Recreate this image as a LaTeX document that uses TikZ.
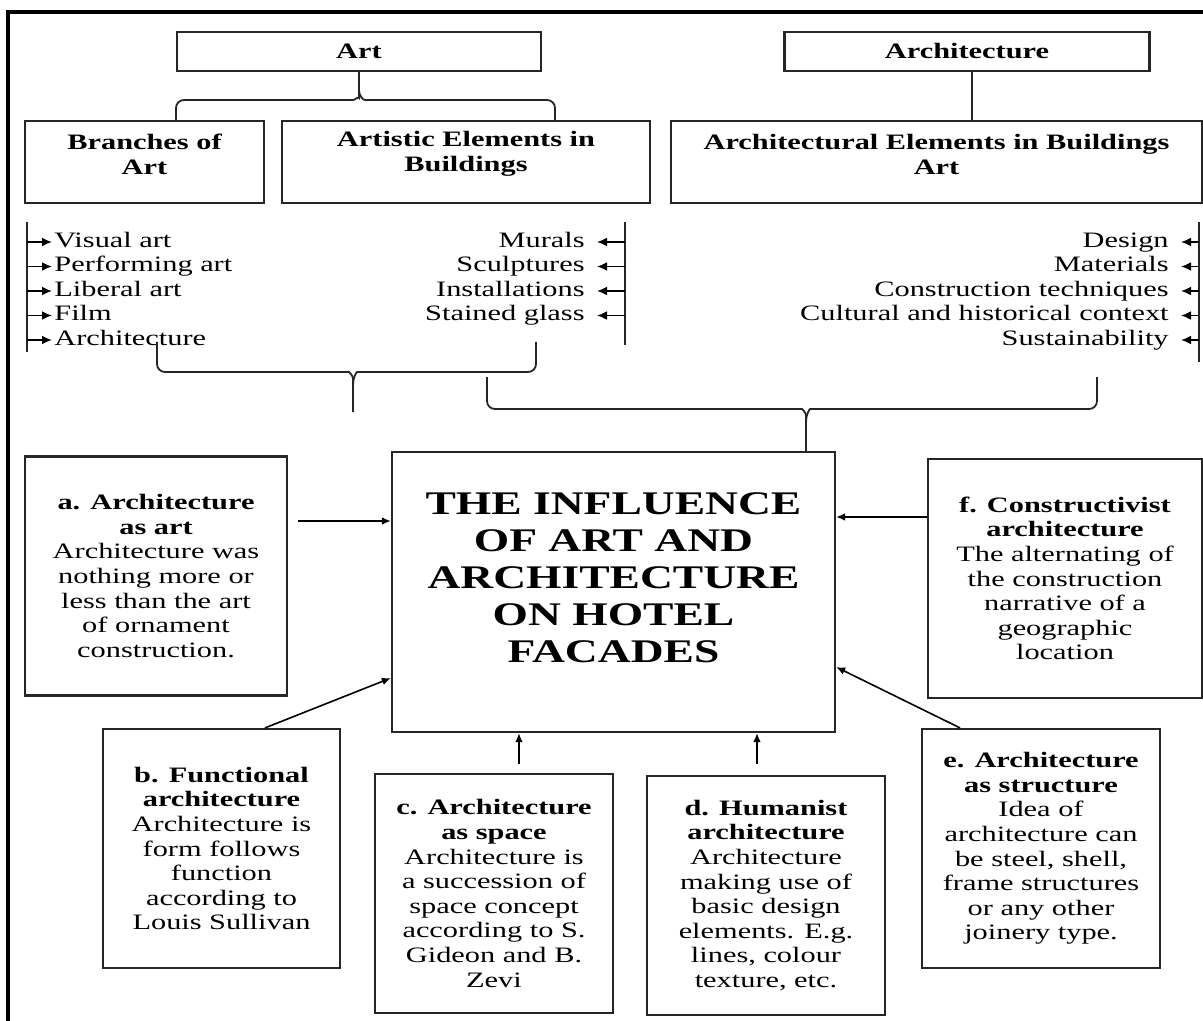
\documentclass[tikz,border=0pt]{standalone}
\usepackage{fontspec}
\setmainfont{Liberation Serif}[FakeStretch=1.38]
\usetikzlibrary{arrows.meta,positioning}

\begin{document}
\begin{tikzpicture}[
  x=0.5pt, y=-0.5pt,
  node distance=1.25pt,
  hbox/.style={draw=black!85, line width=1.1pt},
  htext/.style={align=center, font=\fontsize{11}{12.5}\selectfont\bfseries},
  card/.style={draw=black!85, line width=1.1pt, align=center, inner sep=2pt,
               minimum height=119.5pt, font=\fontsize{11}{12.3}\selectfont},
  litem/.style={anchor=west, inner xsep=1pt, inner ysep=0pt, text height=8pt, text depth=2.6pt,
                font=\fontsize{11}{12}\selectfont},
  ritem/.style={anchor=east, inner xsep=6pt, inner ysep=0pt, text height=8pt, text depth=2.6pt,
                font=\fontsize{11}{12}\selectfont},
  bar/.style={line width=1.4pt, draw=black!85},
  brace/.style={line width=0.9pt, draw=black!85, rounded corners=4pt},
  tick/.style={-{Latex[length=5pt,width=4.4pt]}, line width=0.7pt},
  arr/.style={-{Latex[length=4.5pt,width=3.8pt]}, line width=0.8pt}
]
\useasboundingbox (0,0) rectangle (1203,1021);
\draw[line width=1.6pt] (1210,12) -- (8,12) -- (8,1030);

\node[hbox, minimum width=182pt, minimum height=19.5pt, font=\fontsize{11}{12}\selectfont\bfseries] (art)   at (359,51.5) {Art};
\node[hbox, minimum width=182.5pt, minimum height=19.5pt, font=\fontsize{11}{12}\selectfont\bfseries] (archi) at (967,51.5) {Architecture};
\node[hbox, minimum width=119.5pt, minimum height=41pt] (branches) at (144.5,162) {};
\node[hbox, minimum width=184pt, minimum height=41pt]   (artistic) at (466,162) {};
\node[hbox, minimum width=265.5pt, minimum height=41pt] (archel)   at (936.5,162) {};
\node[htext] (branchesT) at ([yshift=4pt]branches.center) {Branches of\\Art};
\node[htext] (artisticT) at ([yshift=4pt]artistic.center) {Artistic Elements in\\Buildings};
\node[htext] (archelT)   at ([yshift=4pt]archel.center)   {Architectural Elements in Buildings\\Art};

\draw[brace] (art.south) -- (359,90) .. controls (359,96) and (355,100) .. (345,100) -| (branches.north -| 176,0);
\draw[brace] (359,90) .. controls (359,96) and (363,100) .. (373,100) -| (artistic.north -| 555,0);
\draw[brace] ([xshift=2.5pt]archi.south) -- ([xshift=2.5pt]archi.south |- archel.north);

\draw[bar] (27,222) coordinate (lbar) -- (27,352);
\node[litem] (vis) at (52,242) {Visual art};
\node[litem, below=of vis.south west, anchor=north west]  (perf) {Performing art};
\node[litem, below=of perf.south west, anchor=north west] (lib)  {Liberal art};
\node[litem, below=of lib.south west, anchor=north west]  (film) {Film};
\node[litem, below=of film.south west, anchor=north west] (arch) {Architecture};
\draw[tick] (vis.west -| lbar)  -- (vis.west);
\draw[tick] (perf.west -| lbar) -- (perf.west);
\draw[tick] (lib.west -| lbar)  -- (lib.west);
\draw[tick] (film.west -| lbar) -- (film.west);
\draw[tick] (arch.west -| lbar) -- (arch.west);

\draw[bar] (625,222) coordinate (mbar) -- (625,345);
\node[ritem] (mur) at (597,242) {Murals};
\node[ritem, below=of mur.south east, anchor=north east] (scu) {Sculptures};
\node[ritem, below=of scu.south east, anchor=north east] (ins) {Installations};
\node[ritem, below=of ins.south east, anchor=north east] (gla) {Stained glass};
\draw[tick] (mur.east -| mbar) -- (mur.east);
\draw[tick] (scu.east -| mbar) -- (scu.east);
\draw[tick] (ins.east -| mbar) -- (ins.east);
\draw[tick] (gla.east -| mbar) -- (gla.east);

\draw[bar] (1199,222) coordinate (rbar) -- (1199,362);
\node[ritem] (des) at (1181,242) {Design};
\node[ritem, below=of des.south east, anchor=north east] (mat) {Materials};
\node[ritem, below=of mat.south east, anchor=north east] (tec) {Construction techniques};
\node[ritem, below=of tec.south east, anchor=north east] (cul) {Cultural and historical context};
\node[ritem, below=of cul.south east, anchor=north east] (sus) {Sustainability};
\draw[tick] (des.east -| rbar) -- (des.east);
\draw[tick] (mat.east -| rbar) -- (mat.east);
\draw[tick] (tec.east -| rbar) -- (tec.east);
\draw[tick] (cul.east -| rbar) -- (cul.east);
\draw[tick] (sus.east -| rbar) -- (sus.east);

\node[draw=black!85, line width=1.1pt, minimum width=221.5pt, minimum height=140pt] (core) at (613.5,592) {};
\node[align=center, font=\fontsize{16.5}{18.5}\selectfont\bfseries] (coreT) at ([yshift=7pt]core.center)
  {THE INFLUENCE\\OF ART AND\\ARCHITECTURE\\ON HOTEL\\FACADES};

\draw[brace] (157,342) -- (157,372) -- (341,372) .. controls (349,372) and (353,376) .. (353,386) -- (353,412);
\draw[brace] (536,342) -- (536,372) -- (365,372) .. controls (357,372) and (353,376) .. (353,386);
\draw[brace] (487,377) -- (487,409) -- (794,409) .. controls (802,409) and (806,413) .. (806,423) -- (core.north -| 806,0);
\draw[brace] (1097,377) -- (1097,409) -- (818,409) .. controls (810,409) and (806,413) .. (806,423);

\node[card, minimum width=131pt] (asart) at (156,576)
  {\textbf{a. Architecture}\\\textbf{as art}\\Architecture was\\nothing more or\\less than the art\\of ornament\\construction.};
\node[card, minimum width=118.5pt] (func) at (221.5,848.5)
  {\textbf{b. Functional}\\\textbf{architecture}\\Architecture is\\form follows\\function\\according to\\Louis Sullivan};
\node[card, minimum width=119pt] (space) at (494,893.5)
  {\textbf{c. Architecture}\\\textbf{as space}\\Architecture is\\a succession of\\space concept\\according to S.\\Gideon and B.\\Zevi};
\node[card, minimum width=119pt] (human) at (766,895.5)
  {\textbf{d. Humanist}\\\textbf{architecture}\\Architecture\\making use of\\basic design\\elements. E.g.\\lines, colour\\texture, etc.};
\node[card, minimum width=119pt] (struct) at (1041,848.5)
  {\textbf{e. Architecture}\\\textbf{as structure}\\Idea of\\architecture can\\be steel, shell,\\frame structures\\or any other\\joinery type.};
\node[card, minimum width=137pt] (constr) at (1065,578.5)
  {\textbf{f. Constructivist}\\\textbf{architecture}\\The alternating of\\the construction\\narrative of a\\geographic\\location};

\coordinate (ahead) at ([yshift=35.5pt]core.west);
\coordinate (fhead) at ([yshift=37.5pt]core.east);
\draw[arr, shorten <=5pt] (asart.east |- ahead) -- (ahead);
\draw[arr] (constr.west |- fhead) -- (fhead);
\draw[arr] ([xshift=21.75pt]func.north) -- ([yshift=-43pt]core.west);
\draw[arr] ([xshift=-40.5pt]struct.north) -- ([yshift=-37.5pt]core.east);
\draw[arr, shorten <=4.5pt] ([xshift=12.5pt]space.north) -- ([xshift=12.5pt]space.north |- core.south);
\draw[arr, shorten <=5.5pt] ([xshift=-4.5pt]human.north) -- ([xshift=-4.5pt]human.north |- core.south);
\end{tikzpicture}
\end{document}
